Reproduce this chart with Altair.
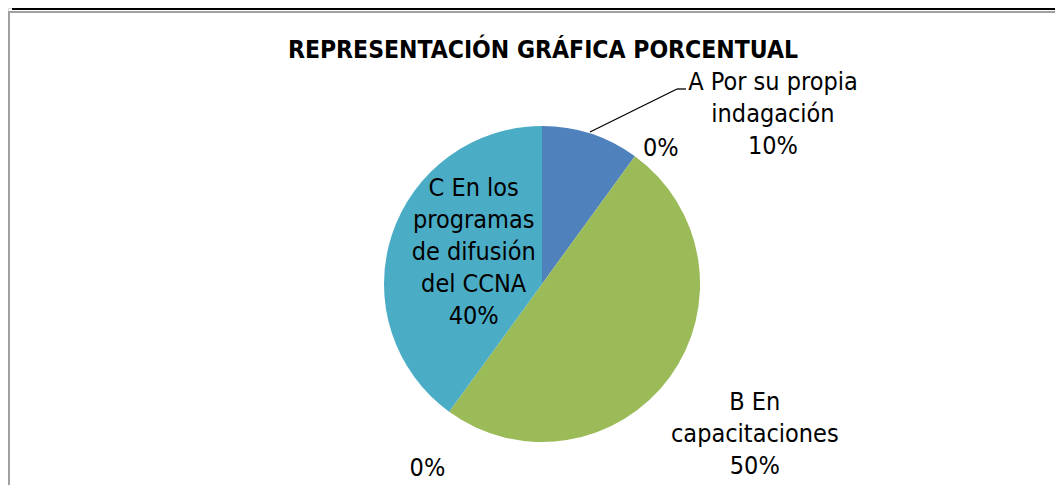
import altair as alt
import pandas as pd

# ---- data ----
keys = ["A", "Z1", "B", "Z2", "C"]
values = [10, 0, 50, 0, 40]
labels = [
    "A Por su propia\nindagación\n10%",
    "0%",
    "B En\ncapacitaciones\n50%",
    "0%",
    "C En los\nprogramas\nde difusión\ndel CCNA\n40%",
]
colors = ["#4F81BD", "#C0504D", "#9BBB59", "#8064A2", "#4BACC6"]
title_text = "REPRESENTACIÓN GRÁFICA PORCENTUAL"

df = pd.DataFrame({"key": keys, "value": values, "label": labels, "order": list(range(len(keys)))})

W, H = 1047, 477
CX, CY = 534, 276
R = 158
FONT = "DejaVu Sans Condensed, sans-serif"
FS = 25

base = alt.Chart(df).encode(
    theta=alt.Theta("value:Q", stack=True),
    order=alt.Order("order:Q"),
    x=alt.value(CX),
    y=alt.value(CY),
)

pie = base.mark_arc(outerRadius=R).encode(
    color=alt.Color("key:N", scale=alt.Scale(domain=keys, range=colors), legend=None)
)

# label placement per slice: (radius, dx, dy)
place = {
    "A": (178, 176, -33),
    "Z1": (180, 13, 10),
    "B": (200, 51, 0),
    "Z2": (200, 3, 22),
    "C": (75, 3, -73),
}
text_layers = []
for k in keys:
    r, dx, dy = place[k]
    t = base.transform_calculate(
        t=f"datum.key == '{k}' ? datum.label : ''"
    ).mark_text(
        radius=r, dx=dx, dy=dy, lineBreak="\n", font=FONT, fontSize=FS,
        lineHeight=32, align="center", baseline="middle", color="#000000"
    ).encode(text="t:N")
    text_layers.append(t)

one = pd.DataFrame({"t": [title_text]})
title = alt.Chart(one).mark_text(
    font=FONT, fontSize=24.5, fontWeight="bold", align="center", baseline="alphabetic", color="#000000"
).encode(x=alt.value(535), y=alt.value(50), text="t:N")

# leader line for label A
lead1 = alt.Chart(one).mark_rule(color="#000000", strokeWidth=1.3).encode(
    x=alt.value(582), y=alt.value(124), x2=alt.value(669), y2=alt.value(81))
lead2 = alt.Chart(one).mark_rule(color="#000000", strokeWidth=1.3).encode(
    x=alt.value(669), y=alt.value(81), x2=alt.value(678), y2=alt.value(81))

# page decorations: table border and chart frame
deco = []
deco.append(alt.Chart(one).mark_rule(color="#000000", strokeWidth=2).encode(
    x=alt.value(5), x2=alt.value(W), y=alt.value(1), y2=alt.value(1)))
for xv in [5, 152, 837, 932]:
    deco.append(alt.Chart(one).mark_rule(color="#000000", strokeWidth=2).encode(
        x=alt.value(xv), x2=alt.value(xv), y=alt.value(0), y2=alt.value(2)))
deco.append(alt.Chart(one).mark_rule(color="#A0A0A0", strokeWidth=2).encode(
    x=alt.value(0), x2=alt.value(W), y=alt.value(4), y2=alt.value(4)))
deco.append(alt.Chart(one).mark_rule(color="#A0A0A0", strokeWidth=2).encode(
    x=alt.value(1), x2=alt.value(1), y=alt.value(3), y2=alt.value(H)))

chart = alt.layer(*deco, pie, lead1, lead2, *text_layers, title).properties(
    width=W, height=H, padding=0, autosize=alt.AutoSizeParams(type="none")
).configure_view(stroke=None).configure(background="white")

chart.save("out.html", embed_options={"renderer": "svg", "actions": False})
